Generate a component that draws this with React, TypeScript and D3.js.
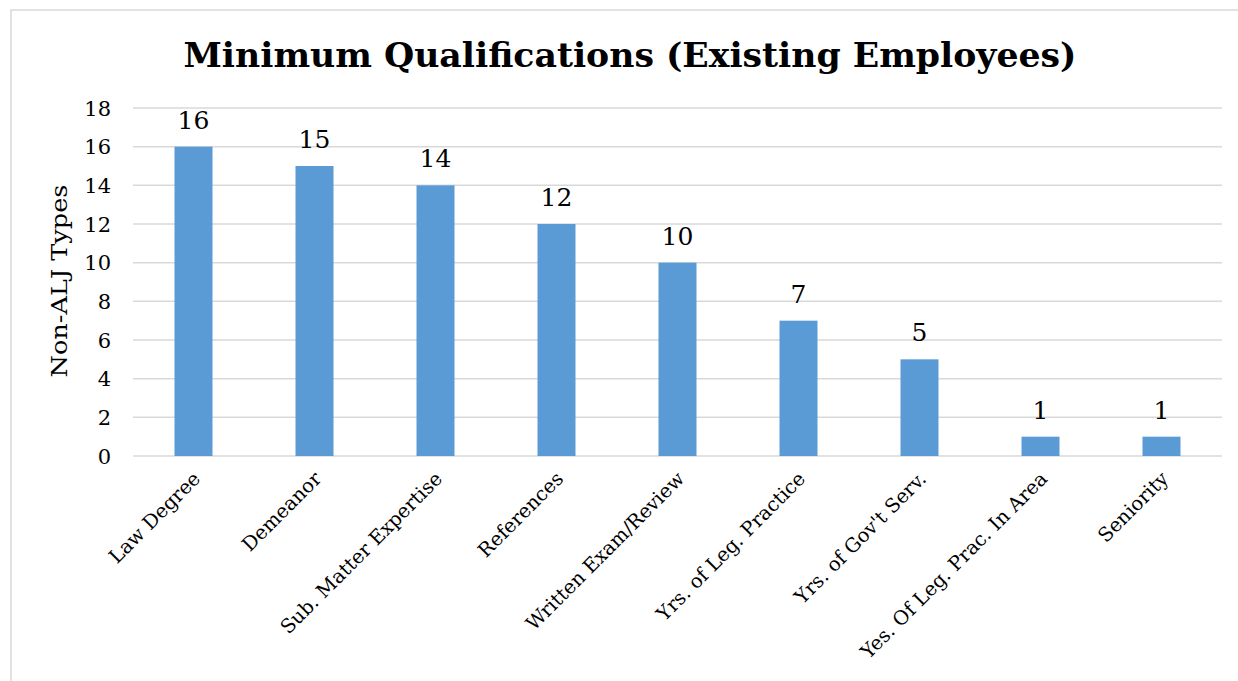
import React from "react";
import * as d3 from "d3";

const categories = [
  "Law Degree",
  "Demeanor",
  "Sub. Matter Expertise",
  "References",
  "Written Exam/Review",
  "Yrs. of Leg. Practice",
  "Yrs. of Gov't Serv.",
  "Yes. Of Leg. Prac. In Area",
  "Seniority",
];
const values = [16, 15, 14, 12, 10, 7, 5, 1, 1];
const yTicks = [0, 2, 4, 6, 8, 10, 12, 14, 16, 18];
const title = "Minimum Qualifications (Existing Employees)";
const yTitle = "Non-ALJ Types";

const W = 1238;
const H = 681;
const FONT = "'DejaVu Serif', 'Liberation Serif', serif";

export default function App() {
  const x = d3.scaleBand<string>().domain(categories).range([133, 1222]).paddingInner(0.686).paddingOuter(0.343);
  const y = d3.scaleLinear().domain([0, 18]).range([456, 108]);
  return (
    <svg width={W} height={H} style={{ position: "absolute", left: 0, top: 0, background: "#fff" }} fontFamily={FONT}>
      <rect x={11} y={10} width={1240} height={690} fill="#fff" stroke="#d9d9d9" strokeWidth={1.5} />
      <text x={630} y={67} textAnchor="middle" fontSize={34} fontWeight="bold" fill="#000" textLength={893} lengthAdjust="spacingAndGlyphs">
        {title}
      </text>
      {yTicks.map((t) => (
        <g key={t}>
          <line x1={133} x2={1222} y1={y(t)} y2={y(t)} stroke="#d9d9d9" strokeWidth={1.5} />
          <text x={111} y={y(t)} dy="0.36em" textAnchor="end" fontSize={21} fill="#000">
            {t}
          </text>
        </g>
      ))}
      <text transform={`translate(67,281) rotate(-90)`} textAnchor="middle" fontSize={22} fill="#000" textLength={193} lengthAdjust="spacingAndGlyphs">
        {yTitle}
      </text>
      {categories.map((c, i) => {
        const bx = x(c)!;
        const cx = bx + x.bandwidth() / 2;
        return (
          <g key={c}>
            <rect x={bx} y={y(values[i])} width={x.bandwidth()} height={y(0) - y(values[i])} fill="#5b9bd5" />
            <text x={cx} y={y(values[i]) - 18} textAnchor="middle" fontSize={25} fill="#000">
              {values[i]}
            </text>
            <text transform={`translate(${cx + 8},480) rotate(-45)`} textAnchor="end" fontSize={19.5} fill="#000">
              {c}
            </text>
          </g>
        );
      })}
    </svg>
  );
}
